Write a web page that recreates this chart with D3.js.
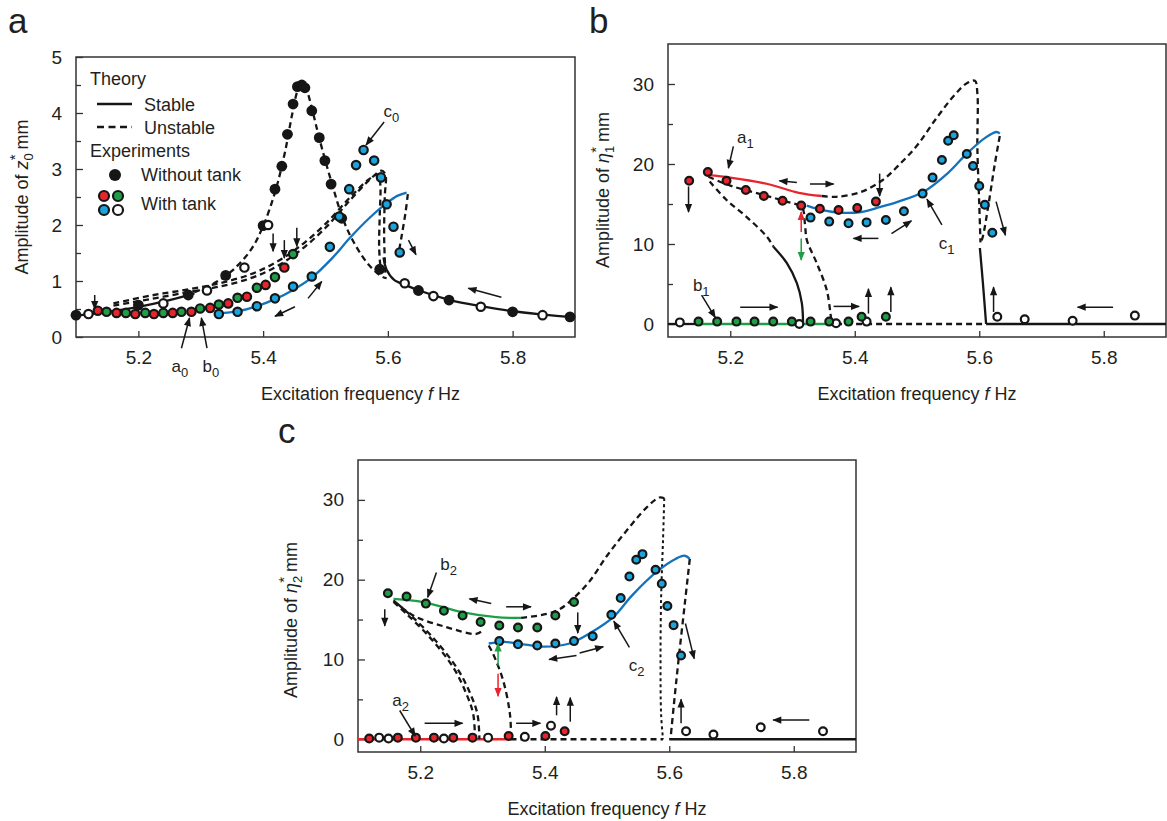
<!DOCTYPE html>
<html>
<head>
<meta charset="utf-8">
<script src="https://cdn.jsdelivr.net/npm/d3@7"></script>
<style>
body { margin: 0; background: #fff; }
svg text { font-family: "Liberation Sans", Arial, sans-serif; fill: #231f20; }
</style>
</head>
<body>
<svg id="fig" width="1167" height="821"></svg>
<script>
// ---------- data : [frequency Hz, amplitude] ----------
var freqTicks = [5.2, 5.4, 5.6, 5.8];

// panel a : z0*
var a_noTank = [[5.10,0.39],[5.20,0.57],[5.28,0.75],[5.34,1.10],[5.40,1.99],[5.419,2.64],[5.43,3.05],[5.439,3.62],[5.448,4.16],[5.455,4.47],[5.462,4.50],[5.467,4.45],[5.478,4.04],[5.49,3.56],[5.499,3.15],[5.509,2.73],[5.526,2.12],[5.587,1.21],[5.649,0.83],[5.698,0.66],[5.80,0.45],[5.892,0.36]];
var a_open = [[5.12,0.41],[5.24,0.60],[5.31,0.83],[5.37,1.24],[5.408,2.0],[5.627,0.96],[5.673,0.73],[5.749,0.54],[5.848,0.39]];
var a_red = [[5.135,0.47],[5.165,0.43],[5.195,0.41],[5.225,0.41],[5.255,0.43],[5.285,0.45],[5.315,0.52],[5.344,0.60],[5.374,0.72],[5.404,0.93],[5.434,1.24]];
var a_green = [[5.149,0.45],[5.18,0.43],[5.211,0.43],[5.24,0.43],[5.269,0.45],[5.299,0.51],[5.329,0.58],[5.359,0.70],[5.39,0.88],[5.419,1.07],[5.448,1.48]];
var a_blue = [[5.329,0.41],[5.359,0.45],[5.39,0.55],[5.419,0.69],[5.448,0.90],[5.478,1.08],[5.507,1.61],[5.522,2.15],[5.538,2.64],[5.549,3.07],[5.561,3.34],[5.578,3.15],[5.589,2.85],[5.598,2.37],[5.609,1.97],[5.619,1.51]];

var a_stableLow = [[5.10,0.38],[5.15,0.45],[5.20,0.54],[5.25,0.66],[5.29,0.78]];
var a_noTankDash = [[5.29,0.80],[5.32,0.95],[5.35,1.18],[5.38,1.55],[5.40,1.98],[5.42,2.62],[5.435,3.3],[5.447,4.0],[5.456,4.42],[5.463,4.52],[5.47,4.4],[5.48,4.0],[5.49,3.55],[5.51,2.75],[5.53,2.05],[5.55,1.6],[5.57,1.28],[5.59,1.08],[5.598,1.05]];
var a_noTankStable = [[5.593,1.42],[5.598,1.2],[5.61,1.02],[5.63,0.92],[5.65,0.83],[5.70,0.66],[5.75,0.55],[5.80,0.46],[5.85,0.40],[5.90,0.35]];
var a_tankDash1 = [[5.16,0.56],[5.22,0.68],[5.28,0.80],[5.33,0.90],[5.38,1.05],[5.42,1.25],[5.46,1.55],[5.50,1.95],[5.54,2.45],[5.57,2.8],[5.59,2.97],[5.596,2.9],[5.595,2.5],[5.594,1.8],[5.596,1.15]];
var a_tankDash2 = [[5.16,0.60],[5.22,0.74],[5.28,0.85],[5.33,0.96],[5.38,1.12],[5.42,1.33],[5.46,1.63],[5.50,2.02],[5.54,2.5],[5.57,2.82],[5.585,2.9],[5.588,2.7],[5.587,2.2],[5.586,1.6],[5.588,1.25]];
var a_blueLine = [[5.328,0.42],[5.36,0.46],[5.39,0.55],[5.42,0.68],[5.448,0.84],[5.478,1.06],[5.51,1.4],[5.54,1.78],[5.57,2.12],[5.598,2.39],[5.615,2.52],[5.63,2.58]];
var a_blueDash = [[5.632,2.55],[5.628,2.2],[5.622,1.8],[5.617,1.48]];

// panel b : eta1*
var b_red = [[5.134,17.9],[5.164,19.0],[5.194,17.9],[5.225,16.75],[5.254,16.0],[5.284,15.4],[5.314,14.8],[5.344,14.4],[5.374,14.25],[5.404,14.5],[5.434,15.3]];
var b_blue = [[5.329,13.3],[5.359,12.8],[5.39,12.6],[5.419,12.7],[5.45,13.0],[5.479,14.1],[5.509,16.3],[5.525,18.3],[5.54,20.5],[5.55,22.9],[5.559,23.6],[5.58,21.25],[5.59,19.75],[5.60,17.25],[5.609,14.9],[5.621,11.4]];
var b_green = [[5.149,0.3],[5.179,0.3],[5.21,0.3],[5.239,0.3],[5.269,0.3],[5.299,0.3],[5.329,0.3],[5.359,0.3],[5.39,0.3],[5.411,0.9],[5.45,0.9]];
var b_open = [[5.119,0.2],[5.311,0.0],[5.37,0.1],[5.419,0.3],[5.629,0.9],[5.673,0.6],[5.75,0.4],[5.85,1.05]];

var b_redLine = [[5.165,18.6],[5.2,18.3],[5.26,17.5],[5.31,16.4],[5.347,16.0]];
var b_upperDash = [[5.347,16.0],[5.37,15.9],[5.41,16.5],[5.445,18.0],[5.47,19.8],[5.5,22.3],[5.53,25.6],[5.56,28.6],[5.58,30.1],[5.593,30.4],[5.597,28.8],[5.597,22],[5.6,15],[5.602,10.2]];
var b_blueLine = [[5.323,14.8],[5.35,14.2],[5.38,13.9],[5.41,14.0],[5.44,14.6],[5.47,15.3],[5.51,16.5],[5.55,18.9],[5.58,21.3],[5.61,23.3],[5.628,24.0],[5.633,23.8]];
var b_blueDash = [[5.633,23.5],[5.625,20],[5.615,15],[5.606,11],[5.602,10]];
var b_jumpSolid = [[5.601,9.5],[5.606,5],[5.611,0]];
var b_zeroRight = [[5.611,0],[5.9,0]];
var b_lowerDash = [[5.165,18.4],[5.2,17.3],[5.25,16.2],[5.29,15.3],[5.315,14.6],[5.32,12.5],[5.323,10.5],[5.339,7.6],[5.355,4.25],[5.361,1.3],[5.363,0]];
var b_innerDash = [[5.167,17.8],[5.194,15.5],[5.226,13.4],[5.259,10.9],[5.269,9.7]];
var b_innerSolid = [[5.269,9.7],[5.291,7.6],[5.307,5.1],[5.315,2.6],[5.317,0]];
var b_zeroSolid = [[5.1,0],[5.15,0]];
var b_greenLine = [[5.15,0],[5.37,0]];
var b_zeroDash = [[5.37,0],[5.611,0]];

// panel c : eta2*
var c_green = [[5.148,18.3],[5.178,17.9],[5.209,17.0],[5.238,16.1],[5.268,15.5],[5.297,14.7],[5.327,14.25],[5.357,14.0],[5.388,14.0],[5.417,15.5],[5.447,17.2]];
var c_blue = [[5.327,12.3],[5.357,11.9],[5.388,11.75],[5.417,12.0],[5.447,12.3],[5.477,12.9],[5.507,15.6],[5.522,17.7],[5.536,20.4],[5.547,22.5],[5.557,23.2],[5.578,21.25],[5.588,19.5],[5.597,16.7],[5.607,14.3],[5.619,10.5]];
var c_red = [[5.118,0.1],[5.164,0.2],[5.193,0.2],[5.222,0.2],[5.253,0.2],[5.284,0.2],[5.342,0.4],[5.401,0.4],[5.432,1.0]];
var c_open = [[5.134,0.2],[5.149,0.1],[5.238,0.1],[5.309,0.2],[5.368,0.3],[5.41,1.7],[5.627,1.0],[5.671,0.6],[5.747,1.5],[5.847,1.0]];

var c_greenLine = [[5.157,17.6],[5.205,17.2],[5.269,15.9],[5.322,15.3],[5.362,15.2]];
var c_upperDash = [[5.362,15.2],[5.403,15.7],[5.424,16.3],[5.445,17.6],[5.472,19.8],[5.5,23],[5.531,26.1],[5.563,29.0],[5.584,30.3],[5.592,30.2]];
var c_peakDrop = [[5.592,30.2],[5.59,25],[5.587,18],[5.586,10],[5.587,3],[5.59,0]];
var c_blueLine = [[5.31,12.0],[5.335,12.2],[5.365,11.9],[5.4,11.6],[5.44,12.0],[5.475,13.4],[5.51,15.3],[5.54,18.0],[5.58,21.0],[5.61,22.6],[5.625,23.0],[5.633,22.6]];
var c_blueDash = [[5.633,22.6],[5.625,17],[5.615,10],[5.607,4],[5.602,0]];
var c_zeroSolid = [[5.6,0],[5.9,0]];
var c_redLine = [[5.1,0],[5.345,0]];
var c_zeroDash = [[5.345,0],[5.59,0]];
var c_lowerDash = [[5.157,17.4],[5.189,15.5],[5.24,14.1],[5.29,13.2],[5.3,13.6]];
var c_blueDrop = [[5.31,11.75],[5.317,10.7],[5.333,7.4],[5.344,3.2],[5.346,0]];
var c_inner1 = [[5.157,17.2],[5.178,15.7],[5.215,12.8],[5.253,9.0],[5.274,5.7],[5.285,3.2],[5.288,0]];
var c_inner2 = [[5.163,17.0],[5.185,15.5],[5.222,12.6],[5.26,8.8],[5.281,5.6],[5.292,3.1],[5.295,0]];

// arrows : [f1, v1, f2, v2, colour]
var a_arrows = [[5.13,0.75,5.13,0.50,"k"],[5.416,1.85,5.416,1.53,"k"],[5.434,1.73,5.434,1.41,"k"],[5.454,1.95,5.454,1.62,"k"],
  [5.451,0.54,5.419,0.37,"k"],[5.472,0.69,5.494,0.99,"k"],[5.782,0.71,5.729,0.87,"k"],[5.633,1.73,5.645,1.47,"k"],
  [5.269,-0.2,5.282,0.34,"k"],[5.31,-0.2,5.301,0.34,"k"],[5.594,3.84,5.565,3.43,"k"]];
var b_arrows = [[5.133,17.2,5.133,14.0,"k"],[5.205,22.2,5.197,19.5,"k"],[5.307,17.7,5.279,17.9,"k"],[5.328,17.5,5.366,17.5,"k"],
  [5.44,18.8,5.44,16.0,"k"],[5.314,11.5,5.314,14.0,"r"],[5.314,10.7,5.314,8.0,"g"],[5.438,10.7,5.398,10.7,"k"],
  [5.459,11.3,5.491,12.9,"k"],[5.54,12.4,5.516,15.6,"k"],[5.627,15.3,5.642,11.1,"k"],[5.623,1.5,5.623,4.6,"k"],
  [5.815,2.1,5.758,2.1,"k"],[5.216,2.1,5.276,2.1,"k"],[5.366,2.2,5.407,2.2,"k"],[5.422,1.3,5.422,4.4,"k"],
  [5.458,1.5,5.458,4.6,"k"],[5.154,3.6,5.176,0.8,"k"]];
var c_arrows = [[5.143,16.3,5.143,14.2,"k"],[5.226,20.9,5.212,17.8,"k"],[5.314,17.0,5.279,17.6,"k"],[5.338,16.6,5.378,16.6,"k"],
  [5.453,15.9,5.453,13.3,"k"],[5.325,9.25,5.325,12.0,"g"],[5.325,8.2,5.325,5.4,"r"],[5.451,10.5,5.407,10.0,"k"],
  [5.456,10.8,5.494,11.6,"k"],[5.536,11.5,5.511,14.8,"k"],[5.626,14.5,5.64,10.1,"k"],[5.619,2.0,5.619,5.0,"k"],
  [5.825,2.4,5.767,2.4,"k"],[5.167,3.6,5.192,0.4,"k"],[5.207,2.0,5.268,2.0,"k"],[5.354,2.0,5.393,2.0,"k"],
  [5.419,3.0,5.419,5.3,"k"],[5.441,2.2,5.441,5.2,"k"]];

// ---------- drawing ----------
var RED = "#e8242c", GREEN = "#1f9e48", CYAN = "#1aa3dc", BLUE = "#1472bd", INK = "#161616";
var arrowCol = {k: INK, r: RED, g: GREEN};

var svg = d3.select("#fig");
var defs = svg.append("defs");
Object.keys(arrowCol).forEach(function (k) {
    defs.append("marker").attr("id", "ah-" + k)
        .attr("viewBox", "0 0 10 10").attr("refX", 9).attr("refY", 5)
        .attr("markerWidth", 10).attr("markerHeight", 9)
        .attr("markerUnits", "userSpaceOnUse").attr("orient", "auto")
        .append("path").attr("d", "M0,1 L10,5 L0,9 Z").attr("fill", arrowCol[k]);
});

function makePanel(p) {
    var x = d3.scaleLinear().domain([5.1, 5.9]).range([p.left, p.right]);
    var y = d3.scaleLinear().domain(p.ydom).range([p.bottom, p.top]);
    var g = svg.append("g");

    var xa = g.append("g").attr("transform", "translate(0," + p.bottom + ")")
        .call(d3.axisBottom(x).tickValues(freqTicks).tickSizeInner(-6).tickSizeOuter(0).tickPadding(14).tickFormat(d3.format(".1f")));
    var ya = g.append("g").attr("transform", "translate(" + p.left + ",0)")
        .call(d3.axisLeft(y).tickValues(p.ymajor).tickSizeInner(-7).tickSizeOuter(0).tickPadding(14).tickFormat(d3.format("d")));
    var ym = g.append("g").attr("transform", "translate(" + p.left + ",0)")
        .call(d3.axisLeft(y).tickValues(p.yminor).tickSizeInner(-5).tickSizeOuter(0).tickFormat(""));
    [xa, ya, ym].forEach(function (a) {
        a.select(".domain").remove();
        a.selectAll("line").attr("stroke", "#333").attr("stroke-width", 1.3);
        a.selectAll("text").attr("font-size", 19).attr("font-family", null);
    });

    g.append("rect").attr("x", p.left).attr("y", p.top)
        .attr("width", p.right - p.left).attr("height", p.bottom - p.top)
        .attr("fill", "none").attr("stroke", "#333").attr("stroke-width", 1.5);

    g.append("text").attr("x", (p.left + p.right) / 2 + p.xtDx).attr("y", p.bottom + 63)
        .attr("text-anchor", "middle").attr("font-size", 18)
        .call(function (t) {
            t.append("tspan").text("Excitation frequency ");
            t.append("tspan").attr("font-style", "italic").text("f");
            t.append("tspan").text(" Hz");
        });

    var yt = g.append("text").attr("text-anchor", "middle").attr("font-size", 18)
        .attr("transform", "translate(" + p.ytX + "," + p.ytY + ") rotate(-90)");
    yt.append("tspan").text("Amplitude of ");
    yt.append("tspan").attr("font-style", "italic").text(p.sym);
    yt.append("tspan").attr("font-size", 13).attr("dy", 5).text(p.sub);
    yt.append("tspan").attr("font-size", 15).attr("dx", -7).attr("dy", -13).text("*");
    yt.append("tspan").attr("dy", 8).text(" mm");

    g.append("text").attr("x", p.letterX).attr("y", p.letterY).attr("font-size", 35).text(p.letter);

    var plot = g.append("g");
    return {g: plot, x: x, y: y};
}

function curve(P, data, col, dash, w) {
    var line = d3.line().x(function (d) { return P.x(d[0]); }).y(function (d) { return P.y(d[1]); })
        .curve(d3.curveCatmullRom.alpha(0.5));
    P.g.append("path").datum(data).attr("d", line)
        .attr("fill", "none").attr("stroke", col).attr("stroke-width", w || 2.3)
        .attr("stroke-dasharray", dash || null);
}

function dots(P, data, fill, r, sw) {
    P.g.append("g").selectAll("circle").data(data).enter().append("circle")
        .attr("cx", function (d) { return P.x(d[0]); })
        .attr("cy", function (d) { return P.y(d[1]); })
        .attr("r", r).attr("fill", fill)
        .attr("stroke", INK).attr("stroke-width", sw);
}

function arrows(P, data) {
    P.g.append("g").selectAll("line").data(data).enter().append("line")
        .attr("x1", function (d) { return P.x(d[0]); }).attr("y1", function (d) { return P.y(d[1]); })
        .attr("x2", function (d) { return P.x(d[2]); }).attr("y2", function (d) { return P.y(d[3]); })
        .attr("stroke", function (d) { return arrowCol[d[4]]; }).attr("stroke-width", 1.5)
        .attr("marker-end", function (d) { return "url(#ah-" + d[4] + ")"; });
}

function tag(P, f, v, main, sub) {
    var t = P.g.append("text").attr("x", P.x(f)).attr("y", P.y(v)).attr("font-size", 17);
    t.append("tspan").text(main);
    t.append("tspan").attr("font-size", 13).attr("dy", 5).text(sub);
}

var DASH = "6,4";

// ---- panel a ----
var A = makePanel({left: 76, right: 575, top: 57, bottom: 337, ydom: [0, 5],
    ymajor: [0, 1, 2, 3, 4, 5], yminor: [0.5, 1.5, 2.5, 3.5, 4.5],
    sym: "z", sub: "0", ytX: 28, ytY: 197, xtDx: 35, letter: "a", letterX: 8, letterY: 33});
curve(A, a_stableLow, INK);
curve(A, a_noTankDash, INK, DASH);
curve(A, a_tankDash1, INK, DASH);
curve(A, a_tankDash2, INK, DASH);
curve(A, a_noTankStable, INK);
curve(A, a_blueLine, BLUE);
curve(A, a_blueDash, INK, DASH);
dots(A, a_noTank, INK, 5.4, 0);
dots(A, a_open, "#fff", 4.2, 2.2);
dots(A, a_red, RED, 4.2, 2.2);
dots(A, a_green, GREEN, 4.2, 2.2);
dots(A, a_blue, CYAN, 4.2, 2.2);
arrows(A, a_arrows);
tag(A, 5.253, -0.63, "a", "0");
tag(A, 5.303, -0.63, "b", "0");
tag(A, 5.593, 3.92, "c", "0");

// legend of panel a
var L = A.g.append("g");
L.append("text").attr("x", 90).attr("y", 85).attr("font-size", 18).text("Theory");
L.append("line").attr("x1", 97).attr("x2", 132).attr("y1", 104).attr("y2", 104).attr("stroke", INK).attr("stroke-width", 2.5);
L.append("text").attr("x", 144).attr("y", 111).attr("font-size", 18).text("Stable");
L.append("line").attr("x1", 97).attr("x2", 132).attr("y1", 127).attr("y2", 127).attr("stroke", INK).attr("stroke-width", 2.5).attr("stroke-dasharray", "7,4.5");
L.append("text").attr("x", 144).attr("y", 134).attr("font-size", 18).text("Unstable");
L.append("text").attr("x", 90).attr("y", 157).attr("font-size", 18).text("Experiments");
L.append("circle").attr("cx", 115).attr("cy", 175).attr("r", 6).attr("fill", INK);
L.append("text").attr("x", 141).attr("y", 181).attr("font-size", 18).text("Without tank");
[[104, 196, RED], [118, 196, GREEN], [104, 210, CYAN], [118, 210, "#fff"]].forEach(function (c) {
    L.append("circle").attr("cx", c[0]).attr("cy", c[1]).attr("r", 5).attr("fill", c[2]).attr("stroke", INK).attr("stroke-width", 2.2);
});
L.append("text").attr("x", 141).attr("y", 210).attr("font-size", 18).text("With tank");

// ---- panel b ----
var B = makePanel({left: 668, right: 1166, top: 44, bottom: 337, ydom: [-1.625, 35],
    ymajor: [0, 10, 20, 30], yminor: [5, 15, 25],
    sym: "\u03b7", sub: "1", ytX: 609, ytY: 190, xtDx: 0, letter: "b", letterX: 589, letterY: 33});
curve(B, b_zeroSolid, INK);
curve(B, b_zeroDash, INK, DASH);
curve(B, b_greenLine, GREEN);
curve(B, b_upperDash, INK, DASH);
curve(B, b_blueDash, INK, DASH);
curve(B, b_lowerDash, INK, DASH);
curve(B, b_innerDash, INK, DASH);
curve(B, b_innerSolid, INK);
curve(B, b_jumpSolid, INK);
curve(B, b_zeroRight, INK);
curve(B, b_redLine, RED);
curve(B, b_blueLine, BLUE);
dots(B, b_open, "#fff", 3.9, 2.2);
dots(B, b_red, RED, 3.9, 2.2);
dots(B, b_green, GREEN, 3.9, 2.2);
dots(B, b_blue, CYAN, 3.9, 2.2);
arrows(B, b_arrows);
tag(B, 5.211, 22.6, "a", "1");
tag(B, 5.14, 4.1, "b", "1");
tag(B, 5.535, 9.4, "c", "1");

// ---- panel c ----
var C = makePanel({left: 358, right: 856, top: 460, bottom: 752, ydom: [-1.6, 35],
    ymajor: [0, 10, 20, 30], yminor: [5, 15, 25],
    sym: "\u03b7", sub: "2", ytX: 297, ytY: 620, xtDx: 0, letter: "c", letterX: 278, letterY: 443});
curve(C, c_zeroDash, INK, DASH);
curve(C, c_zeroSolid, INK);
curve(C, c_redLine, RED);
curve(C, c_upperDash, INK, DASH);
curve(C, c_peakDrop, INK, "3,3", 2);
curve(C, c_blueDash, INK, DASH);
curve(C, c_lowerDash, INK, DASH);
curve(C, c_blueDrop, INK, DASH);
curve(C, c_inner1, INK, DASH);
curve(C, c_inner2, INK, DASH);
curve(C, c_greenLine, GREEN);
curve(C, c_blueLine, BLUE);
dots(C, c_open, "#fff", 3.9, 2.2);
dots(C, c_red, RED, 3.9, 2.2);
dots(C, c_green, GREEN, 3.9, 2.2);
dots(C, c_blue, CYAN, 3.9, 2.2);
arrows(C, c_arrows);
tag(C, 5.232, 21.2, "b", "2");
tag(C, 5.155, 4.2, "a", "2");
tag(C, 5.535, 8.6, "c", "2");
</script>
</body>
</html>
